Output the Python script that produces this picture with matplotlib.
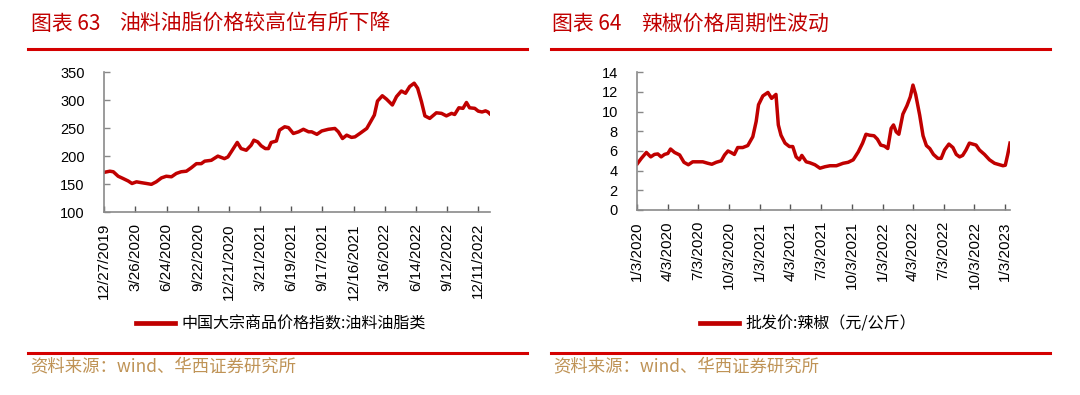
import pandas as pd
import matplotlib
matplotlib.use('Agg')
import matplotlib.pyplot as plt
from matplotlib.lines import Line2D

# 中国大宗商品价格指数:油料油脂类
oil_dates = ['2019-12-27', '2020-01-12', '2020-01-22', '2020-02-05', '2020-02-19', '2020-03-05',
             '2020-03-16', '2020-03-29', '2020-04-12', '2020-04-27', '2020-05-11', '2020-05-25',
             '2020-06-09', '2020-06-23', '2020-07-08', '2020-07-22', '2020-08-05', '2020-08-20',
             '2020-09-03', '2020-09-18', '2020-10-02', '2020-10-12', '2020-10-31', '2020-11-19',
             '2020-12-08', '2020-12-18', '2020-12-29', '2021-01-14', '2021-01-25', '2021-02-09',
             '2021-02-23', '2021-03-03', '2021-03-14', '2021-03-24', '2021-04-05', '2021-04-14',
             '2021-04-22', '2021-05-07', '2021-05-16', '2021-05-31', '2021-06-11', '2021-06-25',
             '2021-07-10', '2021-07-24', '2021-08-08', '2021-08-17', '2021-09-01', '2021-09-15',
             '2021-10-04', '2021-10-23', '2021-11-02', '2021-11-14', '2021-11-26', '2021-12-10',
             '2021-12-20', '2022-01-03', '2022-01-23', '2022-02-04', '2022-02-14', '2022-02-23',
             '2022-03-09', '2022-03-21', '2022-04-07', '2022-04-19', '2022-05-03', '2022-05-15',
             '2022-05-27', '2022-06-09', '2022-06-19', '2022-06-30', '2022-07-10', '2022-07-24',
             '2022-08-12', '2022-08-27', '2022-09-10', '2022-09-25', '2022-10-04', '2022-10-16',
             '2022-10-28', '2022-11-07', '2022-11-16', '2022-12-01', '2022-12-11', '2022-12-22',
             '2023-01-01', '2023-01-08', '2023-01-13']
oil_vals = [171, 173, 172, 164, 160, 155.5,
            151, 154, 152.5, 151, 149.5, 154,
            161, 164, 163, 169, 172, 173,
            179, 186.5, 186.5, 191, 192.5, 200,
            195.5, 198.5, 209, 224.5, 213.5, 210.5,
            219.5, 228.5, 225.5, 218.5, 213.5, 213.5,
            224.5, 227, 246.5, 252.5, 251, 240.5,
            243.5, 248, 243.5, 243.5, 239, 245,
            248, 249.5, 243.5, 231.5, 237.5, 233.5,
            234.5, 240.5, 249.5, 262.5, 273.5, 298.5,
            308, 302, 291.5, 306.5, 316.5, 312.5,
            324.5, 330.5, 321.5, 297.5, 272, 267.5,
            277.5, 276.5, 272, 276.5, 274.5, 286.5,
            285.5, 296, 286.5, 285.5, 280.5, 279,
            281, 279, 276]
oil_ticks = ['12/27/2019', '3/26/2020', '6/24/2020', '9/22/2020', '12/21/2020', '3/21/2021',
             '6/19/2021', '9/17/2021', '12/16/2021', '3/16/2022', '6/14/2022', '9/12/2022',
             '12/11/2022']

# 批发价:辣椒（元/公斤）
pepper_dates = ['2020-01-03', '2020-01-15', '2020-01-30', '2020-02-12', '2020-02-23', '2020-03-04',
                '2020-03-14', '2020-03-24', '2020-04-03', '2020-04-11', '2020-04-23', '2020-05-08',
                '2020-05-21', '2020-06-03', '2020-06-16', '2020-07-01', '2020-07-16', '2020-07-31',
                '2020-08-12', '2020-08-25', '2020-09-09', '2020-09-19', '2020-09-29', '2020-10-08',
                '2020-10-18', '2020-10-28', '2020-11-12', '2020-11-27', '2020-12-12', '2020-12-22',
                '2020-12-29', '2021-01-11', '2021-01-26', '2021-02-06', '2021-02-19', '2021-02-26',
                '2021-03-06', '2021-03-18', '2021-03-31', '2021-04-10', '2021-04-20', '2021-04-30',
                '2021-05-07', '2021-05-20', '2021-05-31', '2021-06-15', '2021-06-30', '2021-07-15',
                '2021-07-30', '2021-08-18', '2021-09-07', '2021-09-22', '2021-10-07', '2021-10-22',
                '2021-11-04', '2021-11-14', '2021-11-25', '2021-12-08', '2021-12-18', '2021-12-28',
                '2022-01-08', '2022-01-18', '2022-01-28', '2022-02-04', '2022-02-12', '2022-02-20',
                '2022-03-04', '2022-03-16', '2022-03-26', '2022-04-03', '2022-04-11', '2022-04-23',
                '2022-05-03', '2022-05-13', '2022-05-23', '2022-06-03', '2022-06-16', '2022-06-26',
                '2022-07-06', '2022-07-19', '2022-07-31', '2022-08-10', '2022-08-20', '2022-08-29',
                '2022-09-08', '2022-09-18', '2022-09-28', '2022-10-08', '2022-10-18', '2022-11-02',
                '2022-11-17', '2022-12-02', '2022-12-17', '2022-12-27', '2023-01-03', '2023-01-10',
                '2023-01-17']
pepper_vals = [4.7, 5.25, 5.85, 5.4, 5.65, 5.7,
               5.4, 5.65, 5.75, 6.2, 5.85, 5.6,
               4.85, 4.6, 4.9, 4.9, 4.9, 4.75,
               4.65, 4.85, 5.0, 5.6, 6.0, 5.85,
               5.65, 6.35, 6.35, 6.55, 7.45, 9.0,
               10.7, 11.6, 11.95, 11.35, 11.75, 8.65,
               7.6, 6.8, 6.45, 6.45, 5.4, 5.1,
               5.55, 4.9, 4.8, 4.6, 4.25, 4.4,
               4.5, 4.5, 4.75, 4.85, 5.1, 5.9,
               6.8, 7.7, 7.6, 7.55, 7.2, 6.6,
               6.5, 6.25, 8.3, 8.65, 7.95, 7.7,
               9.75, 10.6, 11.5, 12.7, 11.75, 9.65,
               7.55, 6.55, 6.25, 5.65, 5.25, 5.25,
               6.1, 6.7, 6.35, 5.65, 5.4, 5.55,
               6.1, 6.8, 6.7, 6.6, 6.1, 5.65,
               5.1, 4.75, 4.6, 4.5, 4.55, 5.6,
               6.8]
pepper_ticks = ['1/3/2020', '4/3/2020', '7/3/2020', '10/3/2020', '1/3/2021', '4/3/2021',
                '7/3/2021', '10/3/2021', '1/3/2022', '4/3/2022', '7/3/2022', '10/3/2022',
                '1/3/2023']

RED = '#C00000'
GOLD = '#BF9356'
CJK = ['Noto Sans CJK SC', 'DejaVu Sans']

plt.rcParams['font.family'] = ['Liberation Sans', 'Noto Sans CJK SC']

fig = plt.figure(figsize=(10.8, 3.95), dpi=100)
W, H = 1080, 395


def fx(px):
    return px / W


def fy(py):
    return 1 - py / H


def panel(rect, dates, vals, ticks, xend, ylim, ystep, legend_label, legend_x):
    ax = fig.add_axes(rect)
    ax.plot(pd.to_datetime(dates), vals, color=RED, lw=2.5, solid_joinstyle='round',
            label=legend_label)
    tick_dates = pd.to_datetime(ticks, format='%m/%d/%Y')
    ax.set_xticks(tick_dates)
    ax.set_xticklabels(ticks, rotation=90, fontsize=11)
    ax.set_xlim(tick_dates[0], pd.Timestamp(xend))
    ax.set_ylim(*ylim)
    ax.set_yticks(range(ylim[0], ylim[1] + 1, ystep))
    ax.tick_params(axis='y', direction='in', length=4, width=1, color='#888888',
                   labelsize=10.5, pad=14)
    ax.tick_params(axis='x', direction='in', length=4, width=1, color='#555555', pad=8)
    for s in ['top', 'right']:
        ax.spines[s].set_visible(False)
    for s in ['left', 'bottom']:
        ax.spines[s].set_color('#8a8a8a')
        ax.spines[s].set_linewidth(1.2)
    fig.legend(handles=[Line2D([], [], color=RED, lw=3.4)], labels=[legend_label],
               loc='center', bbox_to_anchor=(fx(legend_x), fy(324)), frameon=False,
               handlelength=2.4, handletextpad=0.4, prop={'family': CJK, 'size': 11.5})
    return ax


panel([fx(104.3), fy(212), fx(490) - fx(104.3), fy(72.3) - fy(212)],
      oil_dates, oil_vals, oil_ticks, '2023-01-14', (100, 350), 50,
      '中国大宗商品价格指数:油料油脂类', 281)
panel([fx(637.3), fy(210), fx(1010) - fx(637.3), fy(72.3) - fy(210)],
      pepper_dates, pepper_vals, pepper_ticks, '2023-01-17', (0, 14), 2,
      '批发价:辣椒（元/公斤）', 808)

# titles, rules and sources
for x0, num, x1, title in [(31, '图表 63', 119, '油料油脂价格较高位有所下降'),
                           (552, '图表 64', 641, '辣椒价格周期性波动')]:
    fig.text(fx(x0), fy(24), num, color=RED, fontsize=15, family=CJK, va='center')
    fig.text(fx(x1), fy(24), title, color=RED, fontsize=15, family=CJK, va='center')

for a, b in [(28, 527), (551, 1050)]:
    fig.add_artist(Line2D([fx(a), fx(b)], [fy(49), fy(49)], color='#D40000', lw=2.2))
    fig.add_artist(Line2D([fx(a), fx(b)], [fy(352.7), fy(352.7)], color='#D40000', lw=2.2))
    fig.text(fx(a + 2), fy(366), '资料来源：wind、华西证券研究所', color=GOLD, fontsize=12.5,
             family=CJK, va='center')

fig.savefig('out.png', dpi=100)
